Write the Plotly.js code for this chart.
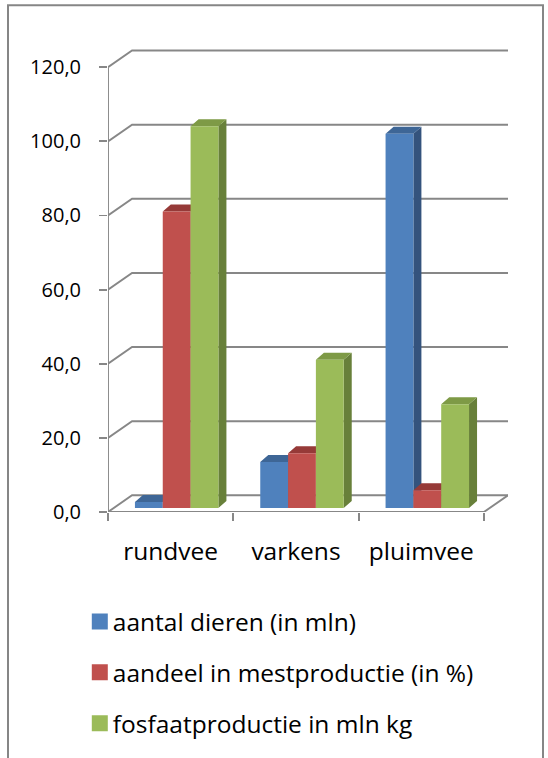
<!DOCTYPE html>
<html><head><meta charset="utf-8">
<script src="https://cdn.plot.ly/plotly-3.0.1.min.js"></script>
<style>html,body{margin:0;padding:0;background:#fff}#chart{width:548px;height:758px}</style>
</head><body><div id="chart"></div>
<script>
// ---- data ----
const categories = ['rundvee', 'varkens', 'pluimvee'];
const aantalDieren = [1.6, 12.4, 101.0];
const aandeelMest = [80.0, 14.8, 4.8];
const fosfaat = [103.0, 40.0, 28.0];
const seriesNames = ['aantal dieren (in mln)', 'aandeel in mestproductie (in %)', 'fosfaatproductie in mln kg'];
const yTicks = [0, 20, 40, 60, 80, 100, 120];

// ---- style / 3D geometry (axis units) ----
const series = [aantalDieren, aandeelMest, fosfaat];
const colors = [
  {front: '#4F81BD', side: '#34537D', top: '#3E6696'},
  {front: '#C0504D', side: '#8A3331', top: '#963A38'},
  {front: '#9BBB59', side: '#68803A', top: '#7E9A46'}
];
const WALL_DX = 0.192, WALL_DY = 4.5;   // depth of the back wall
const BAR_DX = 0.048, BAR_DY = 1.07;    // front plane of the bars
const DEPTH_DX = 0.064, DEPTH_DY = 1.9; // depth of each bar
const BW = 0.222;                       // bar width
const LINE = '#878787';
const n = categories.length;
const xMin = -0.5, xMax = n - 0.5;

const traces = [];
// back wall gridlines with left wall diagonals
const gx = [], gy = [];
yTicks.forEach(t => {
  gx.push(xMin, xMin + WALL_DX, xMax + WALL_DX, null);
  gy.push(t, t + WALL_DY, t + WALL_DY, null);
});
traces.push({x: gx, y: gy, type: 'scatter', mode: 'lines', line: {color: LINE, width: 1.9}, showlegend: false, hoverinfo: 'skip'});
// floor front edge + right edge
traces.push({x: [xMin, xMax, xMax + WALL_DX], y: [0, 0, WALL_DY], type: 'scatter', mode: 'lines', line: {color: LINE, width: 1.9}, showlegend: false, hoverinfo: 'skip'});
// vertical axis line
traces.push({x: [xMin, xMin], y: [0, yTicks[yTicks.length - 1]], type: 'scatter', mode: 'lines', line: {color: LINE, width: 1.9}, showlegend: false, hoverinfo: 'skip'});

// bars: side, top, front per series
series.forEach((vals, j) => {
  const side = {x: [], y: []}, top = {x: [], y: []}, front = {x: [], y: []};
  vals.forEach((v, i) => {
    const x0 = i + BAR_DX + (j - 1.5) * BW, x1 = x0 + BW;
    const b = BAR_DY, t = BAR_DY + v;
    side.x.push(x1, x1 + DEPTH_DX, x1 + DEPTH_DX, x1, x1, null);
    side.y.push(b, b + DEPTH_DY, t + DEPTH_DY, t, b, null);
    top.x.push(x0, x0 + DEPTH_DX, x1 + DEPTH_DX, x1, x0, null);
    top.y.push(t, t + DEPTH_DY, t + DEPTH_DY, t, t, null);
    front.x.push(x0, x1, x1, x0, x0, null);
    front.y.push(b, b, t, t, b, null);
  });
  [[side, colors[j].side], [top, colors[j].top], [front, colors[j].front]].forEach(([p, c]) => {
    traces.push({x: p.x, y: p.y, type: 'scatter', mode: 'lines', fill: 'toself', fillcolor: c,
      line: {width: 0, color: c}, showlegend: false, hoverinfo: 'skip'});
  });
});

// legend entries
seriesNames.forEach((name, j) => {
  traces.push({x: [null], y: [null], type: 'scatter', mode: 'markers', name: name,
    legendgroup: 'g' + j, marker: {symbol: 'square', size: 16, color: colors[j].front}, hoverinfo: 'skip'});
});

const layout = {
  width: 548, height: 758,
  margin: {l: 108, r: 40, t: 45, b: 244},
  paper_bgcolor: '#ffffff', plot_bgcolor: 'rgba(0,0,0,0)',
  font: {family: 'Open Sans, sans-serif', color: '#000000', size: 20},
  separators: ',.',
  showlegend: true,
  hovermode: false,
  xaxis: {
    range: [xMin, xMax + WALL_DX], fixedrange: true,
    tickvals: categories.map((c, i) => i), ticktext: categories,
    ticks: '', showgrid: false, zeroline: false, showline: false,
    tickfont: {size: 24.5, family: 'Open Sans, sans-serif', color: '#000'},
    ticklabelstandoff: 22,
    minor: {tickvals: categories.map((c, i) => i - 0.5).concat([xMax]), ticks: 'outside', ticklen: 8, tickwidth: 1.9, tickcolor: LINE, showgrid: false}
  },
  yaxis: {
    range: [0, 126], fixedrange: true,
    tickvals: yTicks, tickformat: '.1f',
    ticks: 'outside', ticklen: 8, tickwidth: 1.9, tickcolor: LINE,
    showgrid: false, zeroline: false, showline: false,
    tickfont: {size: 20, family: 'Open Sans, sans-serif', color: '#000'},
    ticklabelstandoff: 14
  },
  legend: {
    x: -0.088, xanchor: 'left', y: -0.1865, yanchor: 'top',
    orientation: 'v', tracegroupgap: 16, itemwidth: 30,
    font: {size: 24.5, family: 'Open Sans, sans-serif', color: '#000'},
    bgcolor: 'rgba(0,0,0,0)'
  },
  shapes: [{
    type: 'path', xref: 'paper', yref: 'paper',
    path: 'M -0.25,-0.546 L -0.25,1.0853 L 1.0875,1.0853 L 1.0875,-0.546',
    line: {color: '#868686', width: 2}
  }]
};

Plotly.newPlot('chart', traces, layout, {displayModeBar: false, staticPlot: true}).then(gd => {
  // nudge the legend swatches closer to their labels, as in the original
  gd.querySelectorAll('.legend .legendpoints').forEach(g => {
    g.setAttribute('transform', 'translate(7,0)');
  });
});
</script>
</body></html>
